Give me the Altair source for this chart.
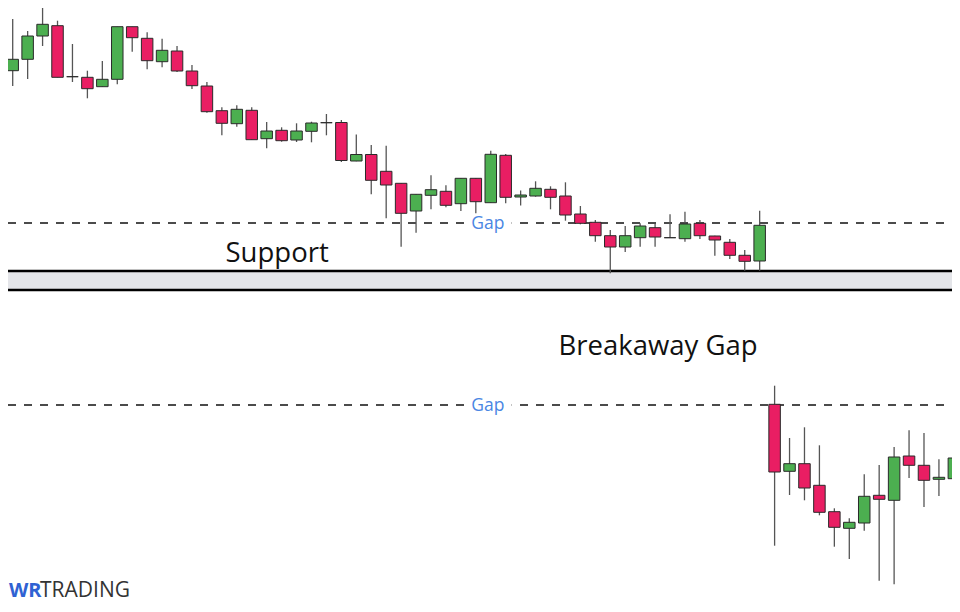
import altair as alt
import pandas as pd

W, H = 944, 596

# OHLC (price units, higher = up)
opens = [541.3, 552.7, 576, 586.3, 535.3, 534.7, 525.3, 532.7, 585.3, 573.7,
         550.3, 561, 541, 526, 501.3, 488.3, 501.7, 473.3, 481.7, 472,
         480.7, 489.3, 489.5, 451, 457.5, 440.7, 428.7, 401, 416.7, 420.7,
         408.3, 433.7, 409.3, 456.7, 415, 416, 422.7, 416, 398, 389.7,
         376.3, 365, 374.3, 384.3, 374.3, 373.3, 388.7, 376, 369.7, 356.7,
         351, 207.7, 140.7, 148.3, 126.7, 100.3, 83.7, 89, 116.7, 111.7,
         156, 146.7, 132.7, 133.3]
highs = [593, 581, 604.7, 591.3, 568, 541.3, 551, 585.3, 585.3, 579.7,
         573.3, 566, 547, 530, 504.7, 506.7, 504.7, 490, 484.7, 488.7,
         490.3, 498, 492, 477.5, 467, 466.3, 429, 418, 436.7, 426.7,
         434, 434, 461.3, 458, 421.5, 430.7, 425.7, 429.7, 406, 392,
         382, 386, 388.7, 388, 397.7, 400.3, 392, 376.3, 373, 362,
         401.3, 226.3, 174, 184.7, 166.7, 103.7, 93.7, 137.7, 147, 165,
         181.7, 179, 152.7, 162]
lows = [526, 533, 566, 534.7, 530, 513.7, 525.3, 527.7, 560.3, 542.7,
        544.7, 540, 523, 499.3, 476.7, 485.3, 472.3, 463.7, 470.3, 470,
        469.7, 476.7, 450, 450.7, 417.7, 393.7, 365.3, 379.3, 402.7, 404.7,
        401, 398.7, 409, 408.7, 406.5, 415.3, 402.7, 391.3, 387.7, 370.3,
        338.7, 360, 365.3, 365.3, 374, 370.3, 373, 356.3, 353, 341.3,
        341.3, 66.3, 117, 111.7, 96.7, 65.3, 53, 81.3, 31.3, 27.7,
        134, 105, 116, 124.7]
closes = [552.7, 576, 587.7, 534.7, 535.3, 523.3, 532.7, 585.3, 574.3, 551.3,
          561.7, 541, 526.3, 500.3, 488.7, 502.7, 472.3, 481, 471.3, 481,
          489, 489.3, 451.5, 457.5, 431.7, 427, 398.7, 417.7, 422.3, 406.7,
          433.7, 410.3, 457.7, 414.7, 417, 423.7, 414.7, 397, 388.7, 376.3,
          365, 376.3, 386, 375, 374.3, 388, 376.3, 372, 356.7, 350.7,
          386.7, 140, 148.3, 124, 99.7, 84.7, 89.7, 115.7, 112.7, 155,
          146.7, 131.7, 134.7, 154]

support_top = 341
support_bottom = 322
gap_levels = [389, 207]
gap_label_x = 31.8
gap_label_y = [383, 201]

GREEN = "#4caf50"
RED = "#e91e63"

candles = pd.DataFrame({
    "i": list(range(len(opens))),
    "open": opens, "high": highs, "low": lows, "close": closes,
})
candles["dir"] = ["up" if c >= o else "down" for o, c in zip(opens, closes)]

xs = alt.Scale(domain=[0.02, 62.54], nice=False, zero=False)
ys = alt.Scale(domain=[8, 604], nice=False, zero=False)
X = lambda f: alt.X(f, type="quantitative", scale=xs, axis=None)
Y = lambda f: alt.Y(f, type="quantitative", scale=ys, axis=None)

base = alt.Chart(candles)

band = alt.Chart(pd.DataFrame({"t": [support_top], "b": [support_bottom]})).mark_rect(
    color="#e4e5e9").encode(x=alt.value(0), x2=alt.value(W), y=Y("t"), y2=alt.Y2("b"))

support_lines = alt.Chart(pd.DataFrame({"lvl": [support_top, support_bottom]})).mark_rule(
    color="#000000", strokeWidth=2.5).encode(x=alt.value(0), x2=alt.value(W), y=Y("lvl"))

gap_df = pd.DataFrame({"lvl": gap_levels, "ly": gap_label_y, "lx": [gap_label_x] * 2})
gap_df["x1"] = gap_df["lx"] - 1.5
gap_df["x2"] = gap_df["lx"] + 1.6
gap_df["y1"] = gap_df["lvl"] - 8
gap_df["y2"] = gap_df["lvl"] + 8

gap_lines = alt.Chart(gap_df).mark_rule(
    color="#111111", strokeWidth=1.6, strokeDash=[8, 8]).encode(
    x=alt.value(0), x2=alt.value(W), y=Y("lvl"))

gap_bg = alt.Chart(gap_df).mark_rect(color="white").encode(
    x=X("x1"), x2=alt.X2("x2"), y=Y("y1"), y2=alt.Y2("y2"))

gap_text = alt.Chart(gap_df).mark_text(
    text="Gap", font="Open Sans", fontSize=17.5, color="#4a86e3",
    align="center", baseline="alphabetic").encode(x=X("lx"), y=Y("ly"))

wicks = base.mark_rule(color="#555555", strokeWidth=1.3).encode(
    x=X("i"), y=Y("high"), y2=alt.Y2("low"))

bodies = base.mark_bar(size=11.5, stroke="#2a2a2a", strokeWidth=1).encode(
    x=X("i"), y=Y("open"), y2=alt.Y2("close"),
    color=alt.Color("dir:N", scale=alt.Scale(domain=["up", "down"], range=[GREEN, RED]),
                    legend=None))

ann = alt.Chart(pd.DataFrame({
    "label": ["Support", "Breakaway Gap"],
    "x": [17.7, 43.2],
    "y": [350, 257],
})).mark_text(font="Open Sans", fontSize=27.5, color="#111111",
              align="center", baseline="alphabetic").encode(
    x=X("x"), y=Y("y"), text="label:N")

logo_wr = alt.Chart(pd.DataFrame({"t": ["WR"]})).mark_text(
    font="Open Sans", fontSize=20, fontWeight="bold",
    color="#2f62d3", align="left", baseline="alphabetic").encode(
    x=alt.value(1), y=alt.value(H - 7), text="t:N")
logo_tr = alt.Chart(pd.DataFrame({"t": ["TRADING"]})).mark_text(
    font="Open Sans", fontSize=21, color="#333333",
    align="left", baseline="alphabetic").encode(
    x=alt.value(32), y=alt.value(H - 7), text="t:N")

chart = alt.layer(
    band, support_lines, gap_lines, gap_bg, gap_text, wicks, bodies, ann, logo_wr, logo_tr
).properties(
    width=W, height=H, padding=0, autosize=alt.AutoSizeParams(type="none"),
    background="white"
).configure_view(stroke=None)

chart.save("out.html", embed_options={"renderer": "svg", "actions": False})
